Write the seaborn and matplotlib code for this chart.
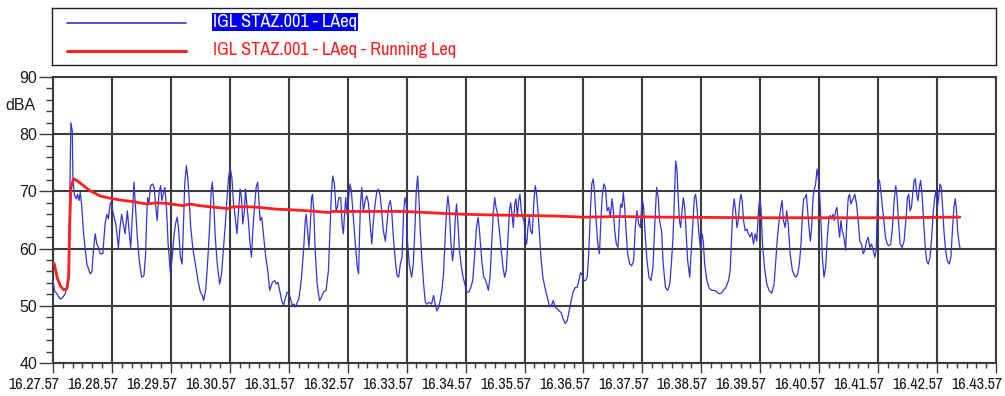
import numpy as np
import pandas as pd
import matplotlib
matplotlib.use("Agg")
import matplotlib.pyplot as plt
import matplotlib.transforms as mtransforms
from matplotlib import font_manager as fm
import seaborn as sns

# LAeq samples: seconds after 16.27.57 and level in dBA
laeq_t = [
    0, 1.4, 7.4, 9.1, 12.5, 15.9, 16.9, 18.2, 19.6, 20.3, 21.6, 23.6, 25.0, 26.4, 27.7, 29.4,
    31.1, 34.5, 37.8, 39.5, 41.2, 42.9, 44.6, 46.3, 48.0, 50.7, 53.0, 54.7, 56.4, 58.1, 59.8,
    60.8, 62.2, 63.9, 66.6, 68.2, 69.9, 71.6, 73.3, 75.7, 77.7, 79.1, 81.1, 82.4, 83.8, 85.8,
    87.8, 90.2, 92.6, 94.3, 95.3, 96.3, 97.6, 99.3, 101.4, 103.0, 104.7, 106.1, 107.8, 109.5,
    110.8, 112.2, 113.9, 115.5, 117.2, 119.6, 121.3, 123.0, 124.7, 126.4, 128.0, 129.7, 131.4,
    132.4, 134.1, 135.8, 137.2, 138.5, 140.2, 142.6, 145.0, 147.6, 150.0, 152.0, 153.4, 155.4,
    157.1, 159.1, 161.1, 162.2, 163.5, 165.2, 167.2, 169.6, 171.6, 173.6, 175.7, 177.0, 178.7,
    180.4, 182.1, 183.8, 185.5, 187.2, 188.9, 190.5, 191.9, 193.2, 194.9, 195.9, 197.3, 198.9,
    200.6, 202.0, 203.4, 205.1, 206.8, 208.4, 209.5, 210.8, 212.5, 214.2, 216.2, 218.6, 220.6,
    223.3, 225.7, 227.4, 229.1, 230.7, 233.1, 234.8, 236.8, 238.5, 240.2, 241.9, 243.6, 245.3,
    247.0, 248.6, 250.3, 252.7, 255.1, 256.8, 257.8, 259.1, 260.5, 261.8, 263.2, 264.2, 265.5,
    266.9, 268.9, 271.3, 273.3, 275.3, 278.0, 280.4, 282.1, 283.4, 284.8, 286.5, 288.2, 289.5,
    290.9, 292.9, 294.3, 295.6, 297.0, 298.0, 299.3, 300.7, 302.4, 303.7, 305.7, 307.8, 309.8,
    311.1, 312.0, 313.0, 314.3, 316.0, 317.7, 319.4, 321.1, 322.8, 324.5, 326.2, 327.9, 329.5,
    331.2, 332.9, 334.6, 336.3, 338.3, 340.0, 341.7, 343.4, 344.8, 346.5, 348.5, 350.2, 351.9,
    353.6, 355.3, 357.0, 358.3, 359.7, 361.0, 362.7, 365.1, 366.8, 368.5, 369.8, 371.2, 372.5,
    373.9, 375.6, 377.3, 379.0, 380.6, 383.0, 385.4, 387.4, 389.1, 390.8, 392.5, 394.2, 395.9,
    397.6, 398.9, 400.6, 402.0, 403.3, 405.0, 406.7, 408.0, 409.4, 410.8, 412.1, 413.8, 415.8,
    417.5, 419.2, 421.3, 423.3, 425.3, 427.3, 429.4, 431.1, 432.8, 434.4, 436.5, 438.5, 439.9,
    441.6, 443.2, 444.9, 446.6, 448.3, 449.7, 451.0, 452.7, 454.4, 456.4, 458.1, 459.8, 461.5,
    463.2, 464.6, 465.9, 467.3, 468.6, 470.0, 471.3, 472.7, 474.0, 475.4, 476.7, 478.1, 479.5,
    480.8, 482.2, 483.5, 484.9, 486.2, 487.9, 489.6, 491.0, 492.3, 493.7, 495.4, 497.0, 498.7,
    500.8, 503.1, 505.5, 507.5, 509.2, 511.3, 513.3, 515.3, 517.4, 519.4, 521.4, 523.5, 525.5,
    527.5, 529.5, 531.6, 533.6, 535.3, 537.0, 539.0, 540.4, 542.1, 543.8, 545.4, 547.1, 548.5,
    549.9, 551.2, 552.9, 554.6, 556.3, 557.6, 559.0, 560.7, 562.4, 564.1, 565.7, 567.4, 569.1,
    570.5, 571.8, 573.5, 575.2, 576.6, 577.9, 579.3, 580.6, 582.0, 583.4, 585.0, 587.1, 589.1,
    591.1, 592.8, 594.5, 596.2, 597.9, 599.9, 601.3, 603.0, 604.7, 606.7, 608.7, 610.8, 612.8,
    614.5, 616.2, 617.5, 619.6, 621.1, 623.5, 625.8, 627.9, 629.5, 631.2, 632.6, 633.9, 635.3,
    636.3, 637.7, 639.0, 640.4, 641.7, 643.1, 644.4, 646.1, 648.2, 649.8, 651.5, 652.9, 654.2,
    655.6, 657.3, 659.0, 660.7, 662.0, 663.4, 665.7, 668.1, 670.8, 673.5, 675.9, 678.3, 680.3,
    682.7, 685.0, 687.7, 689.4, 690.8, 692.1, 693.5, 694.9, 696.2, 697.6, 698.9, 700.3, 701.6,
    703.0, 704.7, 706.4, 708.0, 709.7, 711.4, 713.1, 714.8, 716.5, 718.2, 719.6, 720.9, 722.3,
    724.3, 726.7, 729.0, 731.7, 734.1, 735.8, 737.5, 739.2, 740.9, 742.2, 743.6, 745.3, 747.0,
    748.7, 750.4, 752.7, 754.8, 756.4, 758.1, 759.8, 761.5, 762.9, 764.2, 765.6, 766.9, 768.3,
    769.6, 771.0, 772.3, 773.7, 775.1, 776.4, 777.8, 779.1, 780.5, 781.8, 783.2, 784.9, 786.6,
    788.3, 790.0, 791.3, 792.7, 794.0, 795.4, 796.7, 798.1, 799.4, 800.8, 802.1, 803.5, 805.2,
    806.9, 808.2, 809.6, 810.9, 812.3, 813.6, 815.0, 816.3, 818.0, 819.7, 821.4, 823.1, 824.8,
    826.5, 828.2, 829.9, 831.6, 833.3, 835.0, 836.6, 838.0, 839.0, 840.0, 841.4, 842.7, 844.1,
    845.8, 847.5, 849.2, 850.9, 852.9, 854.6, 856.3, 858.0, 859.3, 860.7, 862.4, 864.4, 866.4,
    868.5, 869.8, 871.2, 872.5, 873.9, 875.2, 876.6, 877.9, 879.3, 880.6, 882.0, 883.3, 884.7,
    886.1, 887.7, 889.4, 891.1, 892.8, 894.5, 896.2, 897.6, 898.9, 900.3, 901.6, 903.0, 904.3,
    905.7, 907.0, 908.7, 910.4, 912.5, 914.1, 915.8, 917.2, 918.5, 919.6, 920.9, 922.6, 923.3,
]
laeq_db = [
    54.5, 52.7, 51.2, 51.3, 52.1, 55.0, 66.6, 82.0, 80.6, 72.4, 69.5, 68.7, 69.5, 68.4, 69.8, 67.2,
    62.6, 57.3, 55.6, 55.9, 59.7, 62.6, 60.8, 60.2, 59.1, 59.1, 64.3, 66.0, 65.2, 67.8, 68.4,
    66.6, 65.5, 64.3, 60.2, 63.7, 66.0, 64.3, 62.6, 66.6, 62.6, 60.2, 66.6, 71.6, 67.8, 62.0,
    57.9, 55.0, 55.3, 59.1, 64.9, 68.9, 67.8, 71.0, 71.3, 70.7, 67.2, 64.9, 69.5, 71.0,
    68.4, 69.5, 70.7, 67.2, 60.8, 55.6, 58.5, 62.0, 64.3, 65.5, 63.1, 58.5, 57.3,
    62.0, 71.3, 74.5, 72.4, 68.9, 63.7, 59.7, 57.3, 54.4, 52.4, 51.8, 50.9, 52.7,
    56.7, 62.6, 70.1, 71.6, 68.4, 62.0, 57.3, 53.8, 55.6, 60.2, 64.9, 68.4, 72.4,
    74.1, 72.4, 67.8, 65.5, 62.6, 66.6, 70.4, 68.9, 64.3, 66.6, 70.4, 67.8, 64.9,
    60.8, 58.5, 63.1, 67.2, 70.7, 71.6, 68.9, 64.9, 65.5, 62.6, 59.1, 56.2, 52.7,
    54.1, 54.4, 53.8, 54.1, 52.7, 50.7, 50.2, 51.5, 52.4, 52.2, 51.2, 50.1, 50.3,
    49.8, 50.6, 51.2, 54.4, 59.7, 64.9, 66.0, 63.1, 60.2, 63.7, 68.9, 69.5, 66.6,
    59.7, 53.8, 50.9, 51.5, 52.4, 52.7, 56.2, 63.7, 69.5, 72.7, 71.3, 66.6, 67.2,
    68.9, 68.9, 64.3, 62.6, 66.6, 68.9, 66.0, 68.4, 71.3, 70.1, 65.5, 60.8, 56.7,
    55.6, 62.0, 67.8, 70.7, 66.6, 68.4, 69.2, 68.0, 64.3, 60.8, 64.9, 67.8, 69.8,
    70.4, 69.5, 66.6, 63.1, 61.3, 64.3, 67.5, 68.4, 66.6, 62.0, 57.9, 55.3, 55.0,
    57.3, 58.5, 66.6, 68.9, 67.8, 60.8, 57.3, 55.0, 57.3, 63.7, 70.1, 72.7, 68.9,
    63.1, 57.9, 53.8, 50.6, 50.3, 50.6, 50.3, 51.8, 50.3, 49.1, 49.7, 50.9, 52.7,
    55.6, 60.8, 66.6, 69.2, 67.2, 61.3, 57.9, 59.7, 64.9, 67.8, 64.9, 59.7, 56.7,
    55.0, 53.8, 52.4, 52.4, 53.2, 54.4, 59.1, 63.7, 65.5, 62.6, 57.9, 55.0, 54.7,
    53.8, 52.7, 55.0, 60.8, 66.6, 68.9, 67.2, 66.0, 63.1, 59.7, 56.7, 55.0, 56.2,
    62.0, 66.6, 68.0, 66.0, 63.7, 67.8, 68.7, 65.5, 68.4, 69.5, 66.6, 65.5, 64.9,
    62.0, 60.8, 63.7, 65.5, 63.1, 62.6, 68.4, 71.0, 69.5, 66.6, 62.0, 57.9, 55.0,
    53.2, 51.5, 49.8, 50.1, 50.9, 49.8, 49.5, 49.1, 48.8, 47.7, 46.9, 47.4, 49.1,
    50.9, 52.4, 53.2, 53.2, 54.4, 55.8, 55.3, 54.4, 54.4, 55.0, 59.1, 66.6, 71.3,
    72.2, 70.1, 64.9, 60.8, 59.1, 64.3, 68.9, 71.3, 70.7, 66.6, 67.2, 65.5, 68.7,
    66.6, 63.1, 60.8, 60.2, 64.9, 67.8, 67.2, 69.8, 67.2, 63.1, 59.1, 57.3, 57.0,
    57.9, 63.7, 66.6, 64.3, 63.7, 68.7, 67.2, 62.0, 57.9, 55.0, 54.4, 56.7, 64.9,
    70.7, 68.9, 64.9, 63.0, 57.5, 53.2, 52.7, 53.8, 57.3, 62.0, 68.9, 75.3, 73.6,
    69.5, 64.9, 63.7, 66.6, 68.9, 67.2, 63.1, 57.9, 55.0, 59.7, 64.9, 68.9, 69.5,
    67.2, 63.1, 60.2, 62.6, 61.3, 57.3, 54.4, 53.0, 52.7, 52.7, 52.4, 52.1, 52.2,
    52.7, 53.2, 54.4, 56.2, 62.0, 66.6, 68.7, 66.6, 63.7, 64.9, 67.8, 69.5, 68.4,
    64.9, 63.1, 63.4, 62.6, 62.0, 62.8, 60.8, 62.6, 61.3, 66.6, 68.9, 66.6, 60.8,
    56.7, 53.8, 52.7, 52.2, 53.8, 57.9, 62.0, 64.9, 67.2, 68.4, 64.9, 63.7, 66.6,
    63.7, 59.1, 56.2, 55.3, 55.0, 55.6, 57.3, 60.8, 66.0, 68.7, 68.9, 69.5, 66.6,
    63.7, 61.3, 63.7, 68.9, 70.4, 71.3, 73.9, 72.4, 69.5, 64.9, 58.5, 55.0, 56.7,
    62.0, 65.5, 65.8, 65.2, 66.0, 64.9, 66.6, 67.2, 64.3, 62.0, 64.9, 63.1, 62.0,
    59.7, 64.9, 68.9, 69.5, 67.8, 68.4, 68.9, 69.5, 67.8, 64.9, 61.3, 60.8, 59.1,
    59.7, 61.3, 62.0, 60.2, 60.8, 59.7, 58.5, 59.7, 66.6, 72.2, 71.9, 70.1, 67.8,
    64.9, 62.0, 60.8, 60.5, 60.8, 63.7, 68.4, 71.0, 68.9, 64.9, 60.8, 60.2, 61.3,
    65.5, 68.9, 69.5, 66.6, 67.2, 69.5, 71.9, 72.2, 69.5, 68.4, 70.7, 71.9, 69.5,
    65.5, 60.8, 57.9, 57.3, 58.5, 62.0, 66.6, 68.9, 70.1, 67.2, 68.9, 71.3, 70.7,
    67.2, 63.1, 59.7, 57.9, 57.3, 58.5, 63.7, 67.2, 68.7, 67.2, 63.1, 60.8, 60.2,
]

# Running Leq: seconds after 16.27.57 and level in dBA
leq_t = [
    0, 1.4, 4.1, 7.4, 10.8, 14.2, 15.9, 16.9, 18.2, 20.9, 24.3, 31.1, 37.8, 48.0, 58.1, 68.2,
    81.8, 95.3, 105.4, 115.5, 132.4, 139.2, 149.3, 166.2, 178.0, 183.1, 200.0, 210.1, 227.0,
    240.5, 260.8, 281.1, 284.5, 310.8, 357.6, 391.5, 418.5, 442.2, 476.1, 509.9, 540.4, 577.6,
    620.9, 717.0, 784.7, 852.4, 923.3,
]
leq_db = [
    57.5, 57.3, 55.0, 53.5, 52.8, 53.0, 55.0, 63.7, 70.7, 72.2, 71.9, 71.0, 70.1, 69.2, 68.8, 68.5,
    68.2, 67.8, 68.0, 67.9, 67.5, 67.8, 67.5, 67.2, 67.0, 67.3, 67.3, 67.2, 66.9,
    66.8, 66.6, 66.3, 66.5, 66.5, 66.5, 66.2, 66.0, 65.9, 65.8, 65.7, 65.5, 65.6,
    65.5, 65.4, 65.4, 65.4, 65.5,
]

minute_labels = [
    "16.27.57", "16.28.57", "16.29.57", "16.30.57", "16.31.57", "16.32.57", "16.33.57",
    "16.34.57", "16.35.57", "16.36.57", "16.37.57", "16.38.57", "16.39.57", "16.40.57",
    "16.41.57", "16.42.57", "16.43.57",
]
db_ticks = [40, 50, 60, 70, 80, 90]
series_names = ["IGL STAZ.001 - LAeq", "IGL STAZ.001 - LAeq - Running Leq"]
y_unit = "dBA"

BLUE = "#3434d4"
RED = "#ff1f1f"
GRID = "#3c3c3c"
INK = "#1a1a1a"

sns.set_theme(style="white")
plt.rcParams["font.family"] = ["Liberation Sans", "DejaVu Sans"]


def pick_narrow_font():
    """Return FontProperties for a narrow sans face, or None if none is installed."""
    entries = [f for f in fm.fontManager.ttflist
               if f.style == "normal" and f.weight in (400, "normal", "regular", "book")]
    prefs = [
        lambda f: f.name == "Liberation Sans Narrow",
        lambda f: f.name == "Arial Narrow",
        lambda f: "Narrow" in f.name,
        lambda f: "Condensed" in f.name and "Sans" in f.name,
        lambda f: "Condensed" in f.name,
        lambda f: str(f.stretch) in ("condensed", "semi-condensed", "extra-condensed"),
    ]
    for rule in prefs:
        for f in entries:
            if rule(f):
                return fm.FontProperties(fname=f.fname)
    return None


narrow = pick_narrow_font()
if narrow is not None:
    tick_font = narrow.copy()
    tick_font.set_size(11.6)
    legend_font = narrow.copy()
    legend_font.set_size(13.2)
else:
    tick_font = fm.FontProperties(family=["Liberation Sans", "DejaVu Sans"], size=9.4)
    legend_font = fm.FontProperties(family=["Liberation Sans", "DejaVu Sans"], size=11)
ylab_font = fm.FontProperties(family=["Liberation Sans", "DejaVu Sans"], size=11.5)

W, H = 1005, 396
fig = plt.figure(figsize=(W / 100, H / 100), dpi=100, facecolor="white")
ax = fig.add_axes([53 / W, 1 - 363 / H, 943 / W, 286 / H])

df_laeq = pd.DataFrame({"t": laeq_t, "dB": laeq_db})
df_leq = pd.DataFrame({"t": leq_t, "dB": leq_db})
sns.lineplot(data=df_laeq, x="t", y="dB", ax=ax, color=BLUE, linewidth=0.9,
             estimator=None, sort=False, legend=False, zorder=3)
sns.lineplot(data=df_leq, x="t", y="dB", ax=ax, color=RED, linewidth=2.0,
             estimator=None, sort=False, legend=False, zorder=4)

ax.set_xlim(0, 60 * (len(minute_labels) - 1))
ax.set_ylim(db_ticks[0], db_ticks[-1])
ax.set_xticks([60 * i for i in range(len(minute_labels))])
ax.set_xticklabels(minute_labels)
ax.set_xticks(np.arange(0, 60 * (len(minute_labels) - 1) + 1, 10), minor=True)
ax.set_yticks(db_ticks)
ax.set_yticklabels([str(v) for v in db_ticks])
ax.set_yticks(np.arange(db_ticks[0], db_ticks[-1] + 1, 2), minor=True)
ax.set_xlabel("")
ax.set_ylabel("")

ax.grid(True, which="major", color=GRID, linewidth=1.5, zorder=1)
ax.set_axisbelow(True)
for s in ax.spines.values():
    s.set_visible(True)
    s.set_color(GRID)
    s.set_linewidth(1.5)

ax.tick_params(axis="x", which="major", direction="out", length=7.2, width=1.0,
               color=GRID, labelcolor=INK, pad=3, bottom=True)
ax.tick_params(axis="x", which="minor", direction="out", length=3.6, width=1.0,
               color=GRID, bottom=True)
ax.tick_params(axis="y", which="major", direction="out", length=10, width=1.0,
               color=GRID, labelcolor=INK, pad=1.5, left=True)
ax.tick_params(axis="y", which="minor", direction="out", length=5, width=1.0,
               color=GRID, left=True)

shift = mtransforms.ScaledTranslation(-19 / 100, 0, fig.dpi_scale_trans)
for lab in ax.get_xticklabels():
    lab.set_fontproperties(tick_font)
    lab.set_transform(lab.get_transform() + shift)
for lab in ax.get_yticklabels():
    lab.set_fontproperties(ylab_font)

ax.text(-18 / 943, (363 - 106) / 286, y_unit, transform=ax.transAxes, ha="right",
        va="center", color=INK, fontproperties=ylab_font)

# Legend panel above the plot
lax = fig.add_axes([52 / W, 1 - 65 / H, 944 / W, 57 / H])
lax.set_xlim(0, 944)
lax.set_ylim(57, 0)
lax.set_xticks([])
lax.set_yticks([])
lax.set_facecolor("white")
for s in lax.spines.values():
    s.set_visible(True)
    s.set_color("#202020")
    s.set_linewidth(1.0)
lax.plot([15, 134], [15, 15], color=BLUE, linewidth=1.2)
lax.plot([15, 134], [43, 43], color=RED, linewidth=2.2)
lax.text(161, 19, series_names[0], va="baseline", ha="left", color="white",
         fontproperties=legend_font,
         bbox=dict(facecolor="#0000f0", edgecolor="none", pad=0.5))
lax.text(161, 46.5, series_names[1], va="baseline", ha="left", color=RED,
         fontproperties=legend_font)

fig.savefig("out.png", dpi=100, facecolor="white")
